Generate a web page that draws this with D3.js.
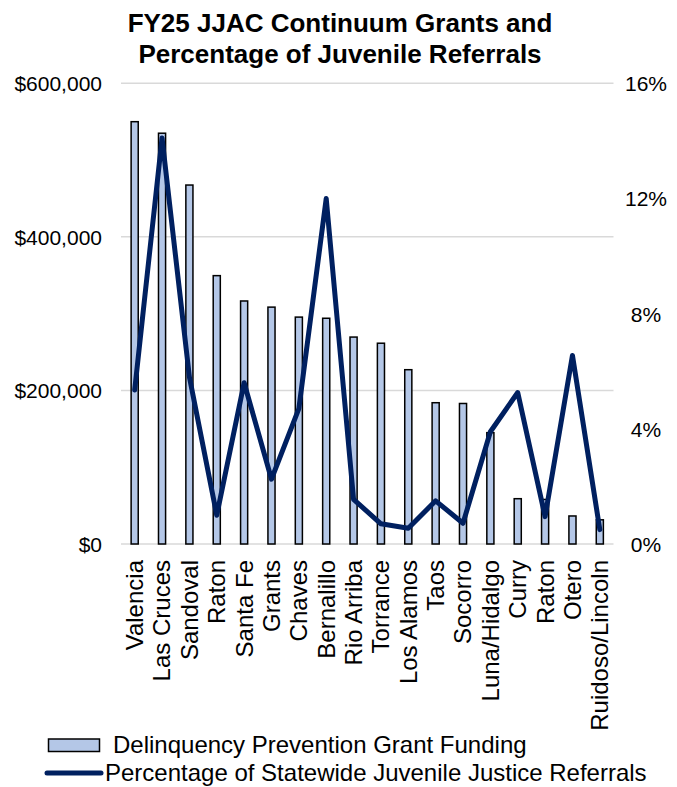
<!DOCTYPE html>
<html><head><meta charset="utf-8">
<script src="https://cdn.jsdelivr.net/npm/d3@7"></script>
<style>body{margin:0;background:#fff}svg{display:block}text{font-family:"Liberation Sans",Arial,sans-serif;fill:#000}</style>
</head><body><svg id="c" width="677" height="787"></svg>
<script>
const categories = ["Valencia","Las Cruces","Sandoval","Raton","Santa Fe","Grants","Chaves","Bernalillo","Rio Arriba","Torrance","Los Alamos","Taos","Socorro","Luna/Hidalgo","Curry","Raton","Otero","Ruidoso/Lincoln"];
const grantFunding = [550000,535000,467500,349500,316500,308500,295500,294000,269500,261500,227000,184000,183000,145000,59000,58000,36500,31500];
const referralPct = [5.35,14.1,5.8,1.0,5.6,2.25,4.7,12.0,1.55,0.7,0.55,1.5,0.72,3.9,5.26,0.95,6.55,0.5];
const leftTicks = [0,200000,400000,600000];
const rightTicks = [0,4,8,12,16];
const titleLines = ["FY25 JJAC Continuum Grants and","Percentage of Juvenile Referrals"];
const legendLabels = ["Delinquency Prevention Grant Funding","Percentage of Statewide Juvenile Justice Referrals"];

const svg = d3.select("#c");
const L = 121, R = 613.5, T = 83.3, B = 544;
const idx = categories.map((d,i)=>i);
const x = d3.scaleBand().domain(idx).range([L,R]).paddingInner(0).paddingOuter(0);
const yL = d3.scaleLinear().domain([0,600000]).range([B,T]);
const yR = d3.scaleLinear().domain([0,16]).range([B,T]);

// title
svg.append("g").selectAll("text").data(titleLines).join("text")
  .attr("x",340).attr("y",(d,i)=>32+i*31).attr("text-anchor","middle")
  .style("font-size","26px").style("font-weight","bold").text(d=>d);

// gridlines
svg.append("g").selectAll("line").data(leftTicks).join("line")
  .attr("x1",L).attr("x2",R).attr("y1",d=>yL(d)).attr("y2",d=>yL(d))
  .attr("stroke","#d9d9d9").attr("stroke-width",1.5);

// left axis
const fmt = d3.format("$,");
const gl = svg.append("g").attr("transform",`translate(${102},0)`)
  .call(d3.axisLeft(yL).tickValues(leftTicks).tickFormat(d=>fmt(d)).tickSize(0).tickPadding(0));
gl.select(".domain").remove();
gl.selectAll("text").style("font-size","21px").attr("font-family",null).attr("dy","0.35em");

// right axis
const gr = svg.append("g").attr("transform",`translate(${646},0)`)
  .call(d3.axisRight(yR).tickValues(rightTicks).tickFormat(d=>d+"%").tickSize(0).tickPadding(0));
gr.select(".domain").remove();
gr.selectAll("text").style("font-size","21px").attr("text-anchor","middle").attr("dy","0.35em");

// bars
const bw = 8.6;
svg.append("g").selectAll("rect").data(grantFunding).join("rect")
  .attr("x",(d,i)=>x(i)+x.bandwidth()/2-bw/2+0.75)
  .attr("width",bw-1.5)
  .attr("y",d=>yL(d)).attr("height",d=>B-yL(d))
  .attr("fill","#b4c7e7").attr("stroke","#000").attr("stroke-width",1.5);

// line
const line = d3.line().x((d,i)=>x(i)+x.bandwidth()/2).y(d=>yR(d));
svg.append("path").datum(referralPct).attr("d",line)
  .attr("fill","none").attr("stroke","#002060").attr("stroke-width",5)
  .attr("stroke-linejoin","round").attr("stroke-linecap","round");

// x labels
const gx = svg.append("g").attr("transform",`translate(0,${560})`)
  .call(d3.axisBottom(x).tickFormat(i=>categories[i]).tickSize(0).tickPadding(0));
gx.select(".domain").remove();
gx.selectAll("text").style("font-size","24px").attr("text-anchor","end")
  .attr("transform","rotate(-90)").attr("x",0).attr("y",0).attr("dy","0.35em");

// legend
const lg = svg.append("g");
lg.append("rect").attr("x",48.5).attr("y",739).attr("width",51).attr("height",12.5)
  .attr("fill","#b4c7e7").attr("stroke","#000").attr("stroke-width",1.5);
lg.append("text").attr("x",113).attr("y",745).attr("dy","0.35em").style("font-size","24px").text(legendLabels[0]);
lg.append("line").attr("x1",47).attr("x2",101).attr("y1",773).attr("y2",773)
  .attr("stroke","#002060").attr("stroke-width",5).attr("stroke-linecap","round");
lg.append("text").attr("x",105).attr("y",773).attr("dy","0.35em").style("font-size","24px").text(legendLabels[1]);
</script></body></html>
